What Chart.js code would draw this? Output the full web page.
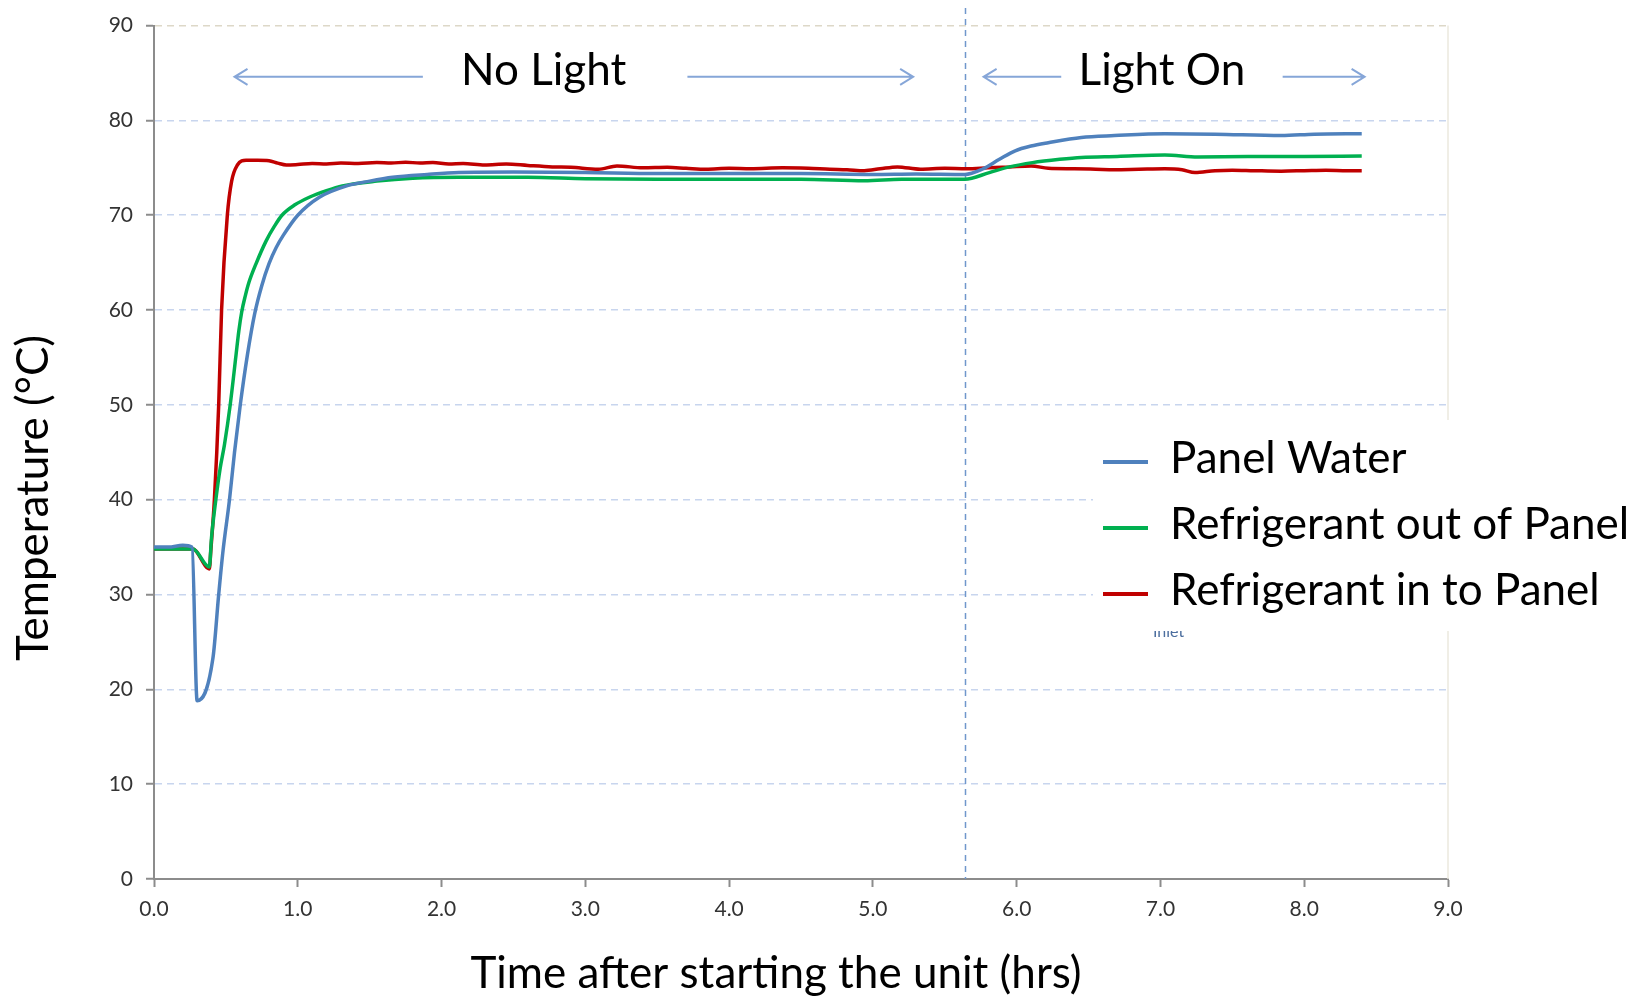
<!DOCTYPE html>
<html>
<head>
<meta charset="utf-8">
<title>Panel temperatures</title>
<script src="https://cdn.jsdelivr.net/npm/chart.js@4.4.0/dist/chart.umd.min.js"></script>
<style>
    body { margin: 0; background: #fff; }
    #wrap { width: 1648px; height: 1000px; }
</style>
</head>
<body>
<div id="wrap"><canvas id="tempChart" width="1648" height="1000"></canvas></div>
<script>
// values (hours, degrees C)
const seriesNames = ['Panel Water', 'Refrigerant out of Panel', 'Refrigerant in to Panel'];

const waterTimes = [0, 0.1, 0.2, 0.265, 0.30, 0.41, 0.45, 0.48, 0.525, 0.56, 0.60, 0.65, 0.70, 0.75, 0.80, 0.85, 0.90, 1.0, 1.15, 1.34, 1.5,
    1.66, 1.9, 2.12, 2.5, 3.0, 3.5, 4.0, 4.5, 5.0, 5.3, 5.64, 5.76, 5.88, 5.99, 6.1, 6.22, 6.45, 6.68, 7.03, 7.38, 7.84, 8.07, 8.4];
const waterTemps = [35.0, 35.0, 35.2, 35.0, 18.8, 23.3, 30.0, 34.6, 40.0, 45.0, 50.0, 55.3, 59.6, 62.6, 64.9, 66.6, 67.9, 70.0, 71.9, 73.1, 73.6,
    74.0, 74.3, 74.5, 74.55, 74.5, 74.4, 74.4, 74.4, 74.3, 74.35, 74.3, 74.85, 75.9, 76.8, 77.3, 77.65, 78.2, 78.4, 78.6, 78.55, 78.4, 78.55, 78.6];

const outTimes = [0, 0.27, 0.385, 0.40, 0.43, 0.46, 0.49, 0.53, 0.57, 0.59, 0.61, 0.635, 0.66, 0.71, 0.78, 0.84, 0.89, 0.98, 1.08, 1.2, 1.31, 1.55, 1.8,
    2.12, 2.6, 3.0, 3.5, 4.0, 4.5, 4.94, 5.2, 5.5, 5.64, 5.81, 5.95, 6.11, 6.3, 6.45, 6.7, 7.03, 7.26, 7.61, 8.0, 8.4];
const outTemps = [34.8, 34.8, 32.9, 36.0, 40.0, 43.3, 45.8, 50.0, 55.2, 57.8, 59.8, 61.5, 62.9, 64.9, 67.3, 68.9, 70.0, 71.1, 71.9, 72.6, 73.1, 73.6, 73.9,
    74.0, 74.0, 73.85, 73.8, 73.8, 73.8, 73.65, 73.8, 73.8, 73.8, 74.5, 75.1, 75.55, 75.9, 76.1, 76.2, 76.35, 76.15, 76.2, 76.2, 76.25];

const inTimes = [0, 0.27, 0.385, 0.395, 0.42, 0.45, 0.47, 0.51, 0.54, 0.58, 0.64, 0.72, 0.80, 0.86, 0.92, 1.0, 1.1, 1.2, 1.3, 1.42,
    1.55, 1.65, 1.75, 1.85, 1.94, 2.05, 2.15, 2.3, 2.45, 2.6, 2.77, 2.9, 3.09, 3.22, 3.4, 3.57, 3.7, 3.84, 4.0, 4.15,
    4.37, 4.55, 4.7, 4.82, 4.94, 5.05, 5.17, 5.33, 5.5, 5.65, 5.8, 5.95, 6.1, 6.22, 6.4, 6.55, 6.68, 6.85, 7.03, 7.15,
    7.24, 7.38, 7.5, 7.65, 7.84, 8.0, 8.15, 8.3, 8.4];
const inTemps = [34.8, 34.8, 32.7, 34.6, 40.0, 50.0, 60.0, 70.0, 73.6, 75.3, 75.8, 75.8, 75.75, 75.5, 75.3, 75.35, 75.45, 75.4, 75.5, 75.45,
    75.55, 75.5, 75.6, 75.5, 75.55, 75.4, 75.45, 75.3, 75.4, 75.25, 75.1, 75.05, 74.85, 75.2, 75.0, 75.05, 74.95, 74.85, 74.95, 74.9,
    75.0, 74.95, 74.85, 74.8, 74.7, 74.9, 75.1, 74.85, 74.95, 74.9, 75.0, 75.1, 75.2, 74.95, 74.9, 74.85, 74.8, 74.85, 74.9, 74.8,
    74.5, 74.7, 74.75, 74.7, 74.65, 74.7, 74.75, 74.7, 74.7];

const lightOnTime = 5.64;

const FONT = 'Lato, "Open Sans", sans-serif';

function toPoints(times, temps) {
    return times.map(function (t, i) { return {x: t, y: temps[i]}; });
}

function lineSet(label, times, temps, color) {
    return {
        label: label,
        data: toPoints(times, temps),
        borderColor: color,
        backgroundColor: color,
        borderWidth: 3.5,
        pointRadius: 0,
        cubicInterpolationMode: 'monotone',
        fill: false
    };
}

function drawArrow(ctx, x1, x2, y) {
    // line from x1 to x2 with an open head at x2
    let dir = x2 > x1 ? 1 : -1;
    ctx.beginPath();
    ctx.moveTo(x1, y);
    ctx.lineTo(x2, y);
    ctx.moveTo(x2 - dir * 13, y - 8);
    ctx.lineTo(x2, y);
    ctx.lineTo(x2 - dir * 13, y + 8);
    ctx.stroke();
}

const overlay = {
    id: 'overlay',
    beforeDatasetsDraw(chart) {
        const {ctx, chartArea, scales: {x}} = chart;
        ctx.save();
        // faint right edge of plot area
        ctx.strokeStyle = '#ebe8de';
        ctx.lineWidth = 1.5;
        ctx.beginPath();
        ctx.moveTo(chartArea.right, chartArea.top);
        ctx.lineTo(chartArea.right, chartArea.bottom);
        ctx.stroke();
        // light switched on
        let lx = Math.round(x.getPixelForValue(lightOnTime)) + 0.5;
        ctx.strokeStyle = '#7097cc';
        ctx.lineWidth = 1.5;
        ctx.setLineDash([6, 5]);
        ctx.beginPath();
        ctx.moveTo(lx, 8);
        ctx.lineTo(lx, chartArea.bottom);
        ctx.stroke();
        ctx.restore();
    },
    afterDraw(chart) {
        const {ctx, scales: {x, y}} = chart;
        ctx.save();

        // phase labels with arrows
        let ay = y.getPixelForValue(84.6);
        ctx.strokeStyle = '#86a6d8';
        ctx.lineWidth = 2;
        drawArrow(ctx, x.getPixelForValue(1.87), x.getPixelForValue(0.56), ay);
        drawArrow(ctx, x.getPixelForValue(3.71), x.getPixelForValue(5.28), ay);
        drawArrow(ctx, x.getPixelForValue(6.31), x.getPixelForValue(5.77), ay);
        drawArrow(ctx, x.getPixelForValue(7.85), x.getPixelForValue(8.42), ay);

        ctx.fillStyle = '#000';
        ctx.font = '44px ' + FONT;
        ctx.textAlign = 'center';
        ctx.textBaseline = 'middle';
        ctx.fillText('No Light', x.getPixelForValue(2.71), 71);
        ctx.fillText('Light On', x.getPixelForValue(7.01), 71);

        // axis titles
        ctx.fillText('Time after starting the unit (hrs)', 776, 974);
        ctx.save();
        ctx.translate(34, 498);
        ctx.rotate(-Math.PI / 2);
        ctx.fillText('Temperature (\u00B0C)', 0, 0);
        ctx.restore();

        // legend box
        ctx.fillStyle = '#fff';
        ctx.fillRect(1093, 420, 555, 211);
        ctx.save();
        ctx.beginPath();
        ctx.rect(1093, 631, 200, 12);
        ctx.clip();
        ctx.fillStyle = '#4d6f9f';
        ctx.font = '16px ' + FONT;
        ctx.textAlign = 'left';
        ctx.fillText('Inlet', 1153, 632);
        ctx.restore();

        let rows = [462, 528, 594];
        chart.data.datasets.forEach(function (ds, i) {
            ctx.strokeStyle = ds.borderColor;
            ctx.lineWidth = 4;
            ctx.beginPath();
            ctx.moveTo(1103, rows[i]);
            ctx.lineTo(1148, rows[i]);
            ctx.stroke();
            ctx.fillStyle = '#000';
            ctx.font = '44px ' + FONT;
            ctx.textAlign = 'left';
            ctx.textBaseline = 'middle';
            ctx.fillText(ds.label, 1170, rows[i] - 3);
        });
        ctx.restore();
    }
};

new Chart(document.getElementById('tempChart'), {
    type: 'line',
    data: {
        datasets: [
            lineSet(seriesNames[0], waterTimes, waterTemps, '#4f81bd'),
            lineSet(seriesNames[1], outTimes, outTemps, '#00b050'),
            lineSet(seriesNames[2], inTimes, inTemps, '#c00000')
        ]
    },
    options: {
        responsive: false,
        animation: false,
        layout: {padding: {top: 25, right: 200, left: 0, bottom: 0}},
        plugins: {
            legend: {display: false},
            tooltip: {enabled: false}
        },
        scales: {
            x: {
                type: 'linear',
                min: 0,
                max: 9,
                afterFit: function (scale) { scale.height = 121; },
                ticks: {
                    stepSize: 1,
                    padding: 10,
                    color: '#333',
                    font: {family: FONT, size: 21},
                    maxRotation: 0,
                    callback: function (v) { return v.toFixed(1); }
                },
                grid: {
                    drawOnChartArea: false,
                    tickLength: 8,
                    tickColor: '#8c8c8c',
                    tickWidth: 2
                },
                border: {color: '#8c8c8c', width: 2}
            },
            y: {
                min: 0,
                max: 90,
                afterFit: function (scale) { scale.width = 154; },
                ticks: {
                    stepSize: 10,
                    padding: 13,
                    color: '#333',
                    font: {family: FONT, size: 21}
                },
                grid: {
                    color: function (c) { return c.tick && c.tick.value === 90 ? '#ddd8c8' : '#c8d5ee'; },
                    lineWidth: 1.5,
                    tickLength: 8,
                    tickColor: '#8c8c8c',
                    tickWidth: 2,
                    tickBorderDash: []
                },
                border: {color: '#8c8c8c', width: 2, dash: [7, 5]}
            }
        }
    },
    plugins: [overlay]
});
</script>
</body>
</html>
